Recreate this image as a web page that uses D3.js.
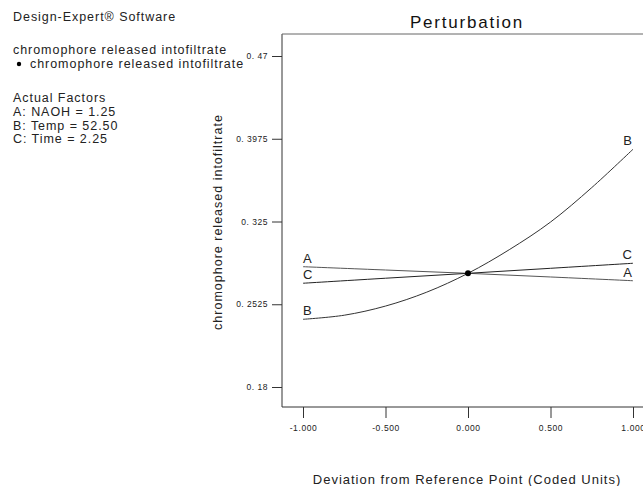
<!DOCTYPE html>
<html>
<head>
<meta charset="utf-8">
<script src="https://cdn.jsdelivr.net/npm/d3@7"></script>
<style>
  body { margin: 0; background: #fff; }
  svg { font-family: "Liberation Sans", Arial, sans-serif; }
</style>
</head>
<body>
<div id="chart"></div>
<script>
// coded deviation points and response
var devA = [-1, -0.5, 0, 0.5, 1];
var respA = [0.2854, 0.2825, 0.2796, 0.2764, 0.2731];
var devB = [-1, -0.75, -0.5, -0.25, 0, 0.25, 0.5, 0.75, 1];
var respB = [0.2393, 0.2429, 0.2509, 0.2631, 0.2796, 0.3003, 0.3245, 0.3547, 0.3883];
var devC = [-1, -0.5, 0, 0.5, 1];
var respC = [0.2709, 0.2753, 0.2796, 0.2840, 0.2884];
var refPoint = [0, 0.2796];

var xTicks = [-1, -0.5, 0, 0.5, 1];
var yTicks = [0.18, 0.2525, 0.325, 0.3975, 0.47];
var yTickLabels = ["0. 18", "0. 2525", "0. 325", "0. 3975", "0. 47"];
var xTickLabels = ["-1.000", "-0.500", "0.000", "0.500", "1.000"];

var factorLines = ["A: NAOH = 1.25", "B: Temp = 52.50", "C: Time = 2.25"];

var width = 643, height = 486;
var frame = {left: 282, top: 34, right: 643, bottom: 407};

var svg = d3.select("#chart").append("svg")
    .attr("width", width)
    .attr("height", height);

var x = d3.scaleLinear().domain([-1, 1]).range([303, 633]);
var y = d3.scaleLinear().domain([0.18, 0.47]).range([387, 56]);

// frame lines (left, bottom, top)
svg.append("line")
    .attr("x1", frame.left).attr("x2", frame.left)
    .attr("y1", frame.top).attr("y2", frame.bottom)
    .attr("stroke", "#333");
svg.append("line")
    .attr("x1", frame.left).attr("x2", frame.right)
    .attr("y1", frame.bottom).attr("y2", frame.bottom)
    .attr("stroke", "#333");
svg.append("line")
    .attr("x1", frame.left).attr("x2", frame.right)
    .attr("y1", frame.top).attr("y2", frame.top)
    .attr("stroke", "#666");

// y axis ticks
var yAxis = d3.axisLeft(y)
    .tickValues(yTicks)
    .tickSize(10)
    .tickPadding(4)
    .tickFormat(function(d, i) { return yTickLabels[i]; });
var gy = svg.append("g")
    .attr("transform", "translate(" + frame.left + ",0)")
    .call(yAxis);
gy.select(".domain").remove();
gy.selectAll("line").attr("stroke", "#333");
gy.selectAll("text")
    .style("font-size", "8.5px")
    .style("letter-spacing", "0.5px")
    .style("font-family", "Liberation Sans, Arial")
    .attr("fill", "#222");

// x axis ticks
var xAxis = d3.axisBottom(x)
    .tickValues(xTicks)
    .tickSize(11)
    .tickPadding(7)
    .tickFormat(function(d, i) { return xTickLabels[i]; });
var gx = svg.append("g")
    .attr("transform", "translate(0," + frame.bottom + ")")
    .call(xAxis);
gx.select(".domain").remove();
gx.selectAll("line").attr("stroke", "#333");
gx.selectAll("text")
    .style("font-size", "8.5px")
    .style("letter-spacing", "0.6px")
    .style("font-family", "Liberation Sans, Arial")
    .attr("fill", "#222");

// curves
var line = d3.line()
    .x(function(d) { return x(d[0]); })
    .y(function(d) { return y(d[1]); })
    .curve(d3.curveCatmullRom);

function pairs(xs, ys) {
  return xs.map(function(v, i) { return [v, ys[i]]; });
}

var series = [
  {name: "A", pts: pairs(devA, respA), color: "#555"},
  {name: "C", pts: pairs(devC, respC), color: "#222"},
  {name: "B", pts: pairs(devB, respB), color: "#333"}
];

series.forEach(function(s) {
  svg.append("path")
      .datum(s.pts)
      .attr("fill", "none")
      .attr("stroke", s.color)
      .attr("stroke-width", 1)
      .attr("d", line);

  var first = s.pts[0], last = s.pts[s.pts.length - 1];
  svg.append("text")
      .attr("x", x(first[0]))
      .attr("y", y(first[1]) - 4)
      .style("font-size", "13px")
      .attr("fill", "#222")
      .text(s.name);
  svg.append("text")
      .attr("x", x(last[0]) - 1)
      .attr("y", y(last[1]) - 4)
      .attr("text-anchor", "end")
      .style("font-size", "13px")
      .attr("fill", "#222")
      .text(s.name);
});

// reference point
svg.append("circle")
    .attr("cx", x(refPoint[0]))
    .attr("cy", y(refPoint[1]))
    .attr("r", 3)
    .attr("fill", "#000");

// title
svg.append("text")
    .attr("x", 467)
    .attr("y", 28)
    .attr("text-anchor", "middle")
    .style("font-size", "17px")
    .style("letter-spacing", "1.8px")
    .attr("fill", "#111")
    .text("Perturbation");

// axis titles
svg.append("text")
    .attr("x", 467)
    .attr("y", 484)
    .attr("text-anchor", "middle")
    .style("font-size", "13px")
    .style("letter-spacing", "1px")
    .attr("fill", "#222")
    .text("Deviation from Reference Point (Coded Units)");

svg.append("text")
    .attr("transform", "translate(222,222) rotate(-90)")
    .attr("text-anchor", "middle")
    .style("font-size", "12.5px")
    .style("letter-spacing", "1px")
    .attr("fill", "#222")
    .text("chromophore released intofiltrate");

// left notes
var notes = svg.append("g")
    .style("font-size", "12.5px")
    .style("letter-spacing", "0.95px")
    .attr("fill", "#222");
notes.append("text").attr("x", 13).attr("y", 21).text("Design-Expert\u00AE Software");
notes.append("text").attr("x", 13).attr("y", 54).text("chromophore released intofiltrate");
notes.append("circle").attr("cx", 19).attr("cy", 64).attr("r", 2.2).attr("fill", "#000");
notes.append("text").attr("x", 30).attr("y", 68).text("chromophore released intofiltrate");
notes.append("text").attr("x", 13).attr("y", 102).text("Actual Factors");
notes.selectAll(".factor")
    .data(factorLines)
    .enter()
    .append("text")
    .attr("class", "factor")
    .attr("x", 13)
    .attr("y", function(d, i) { return 116 + i * 13.5; })
    .text(function(d) { return d; });
</script>
</body>
</html>
